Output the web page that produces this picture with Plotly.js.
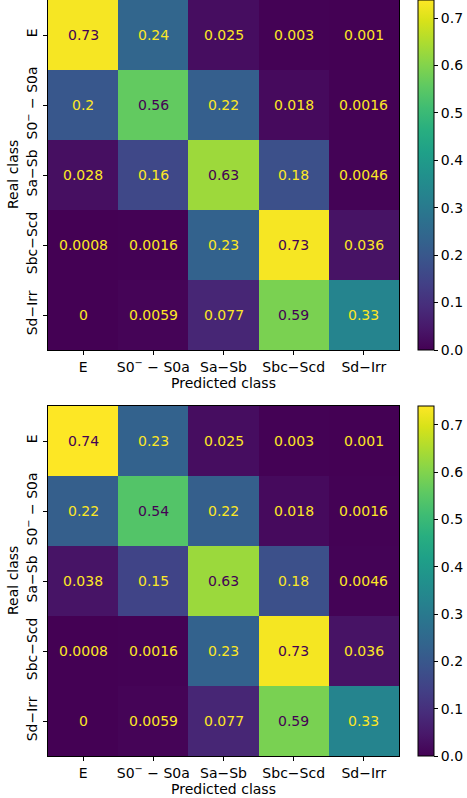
<!DOCTYPE html>
<html>
<head>
<meta charset="utf-8">
<script src="https://cdn.plot.ly/plotly-3.0.1.min.js"></script>
<style>html,body{margin:0;padding:0;background:#fff;}#chart{width:467px;height:798px;}</style>
</head>
<body>
<div id="chart"></div>
<script>
// Class labels
const classLabels = ["E", "S0<sup>−</sup> − S0a", "Sa−Sb", "Sbc−Scd", "Sd−Irr"];

// Top confusion matrix (rows = real class, cols = predicted class)
const topRowE   = [0.73, 0.24, 0.025, 0.003, 0.001];
const topRowS0  = [0.2, 0.56, 0.22, 0.018, 0.0016];
const topRowSa  = [0.028, 0.16, 0.63, 0.18, 0.0046];
const topRowSbc = [0.0008, 0.0016, 0.23, 0.73, 0.036];
const topRowSd  = [0, 0.0059, 0.077, 0.59, 0.33];

// Bottom confusion matrix
const botRowE   = [0.74, 0.23, 0.025, 0.003, 0.001];
const botRowS0  = [0.22, 0.54, 0.22, 0.018, 0.0016];
const botRowSa  = [0.038, 0.15, 0.63, 0.18, 0.0046];
const botRowSbc = [0.0008, 0.0016, 0.23, 0.73, 0.036];
const botRowSd  = [0, 0.0059, 0.077, 0.59, 0.33];

const topZ = [topRowE, topRowS0, topRowSa, topRowSbc, topRowSd];
const botZ = [botRowE, botRowS0, botRowSa, botRowSbc, botRowSd];

const W = 467, H = 798;
const FONT = "DejaVu Sans";
const DARK = "#440154", LIGHT = "#fde725";

function py(px){ return 1 - px / H; }

const xDom = [48/W, 399/W];
const topDom = [py(350), py(0)];
const botDom = [py(756), py(406)];

function heat(z, xa, ya, zmax, cbY){
  return {
    type: "heatmap", z: z, x: classLabels, y: classLabels,
    xaxis: xa, yaxis: ya, colorscale: "Viridis", zmin: 0, zmax: zmax,
    hoverinfo: "skip", xgap: 0, ygap: 0,
    colorbar: {
      x: 418/W, xanchor: "left", xpad: 0, ypad: 0,
      y: cbY, yanchor: "middle", len: 350, lenmode: "pixels",
      thickness: 16, thicknessmode: "pixels",
      outlinewidth: 1, outlinecolor: "#000",
      tickmode: "linear", tick0: 0, dtick: 0.1, tickformat: ".1f",
      ticks: "outside", ticklen: 4, tickwidth: 1, tickcolor: "#000",
      tickfont: {family: FONT, size: 14, color: "#000"}
    }
  };
}

function annots(z, xa, ya){
  let mx = 0;
  z.forEach(r => r.forEach(v => { if (v > mx) mx = v; }));
  const thr = mx / 2;
  const out = [];
  z.forEach((row, i) => row.forEach((v, j) => {
    out.push({
      x: classLabels[j], y: classLabels[i], xref: xa, yref: ya,
      text: String(v), showarrow: false,
      font: {family: FONT, size: 14, color: v < thr ? LIGHT : DARK}
    });
  }));
  // y-axis title
  out.push({
    text: "Real class", textangle: -90, showarrow: false,
    xref: "paper", x: 13/W, xanchor: "center",
    yref: ya + " domain", y: 0.5, yanchor: "middle",
    font: {family: FONT, size: 14, color: "#000"}
  });
  return out;
}

function xAxis(anchor){
  return {
    domain: xDom, anchor: anchor, type: "category",
    showline: true, mirror: true, linecolor: "#000", linewidth: 1,
    ticks: "outside", ticklen: 4, tickwidth: 1, tickcolor: "#000",
    tickfont: {family: FONT, size: 14, color: "#000"},
    showgrid: false, zeroline: false, fixedrange: true,
    title: {text: "Predicted class", font: {family: FONT, size: 14, color: "#000"}, standoff: 0}
  };
}
function yAxis(anchor, dom){
  return {
    domain: dom, anchor: anchor, type: "category", autorange: "reversed",
    showline: true, mirror: true, linecolor: "#000", linewidth: 1,
    ticks: "outside", ticklen: 4, tickwidth: 1, tickcolor: "#000",
    tickangle: -90,
    tickfont: {family: FONT, size: 14, color: "#000"},
    showgrid: false, zeroline: false, fixedrange: true
  };
}

const data = [
  heat(topZ, "x", "y", 0.738, py(175)),
  heat(botZ, "x2", "y2", 0.74, py(581))
];

const layout = {
  width: W, height: H,
  margin: {l: 0, r: 0, t: 0, b: 0},
  paper_bgcolor: "#fff", plot_bgcolor: "#fff",
  showlegend: false,
  xaxis: xAxis("y"), yaxis: yAxis("x", topDom),
  xaxis2: xAxis("y2"), yaxis2: yAxis("x2", botDom),
  annotations: annots(topZ, "x", "y").concat(annots(botZ, "x2", "y2"))
};

Plotly.newPlot("chart", data, layout, {displayModeBar: false, staticPlot: true});
</script>
</body>
</html>
